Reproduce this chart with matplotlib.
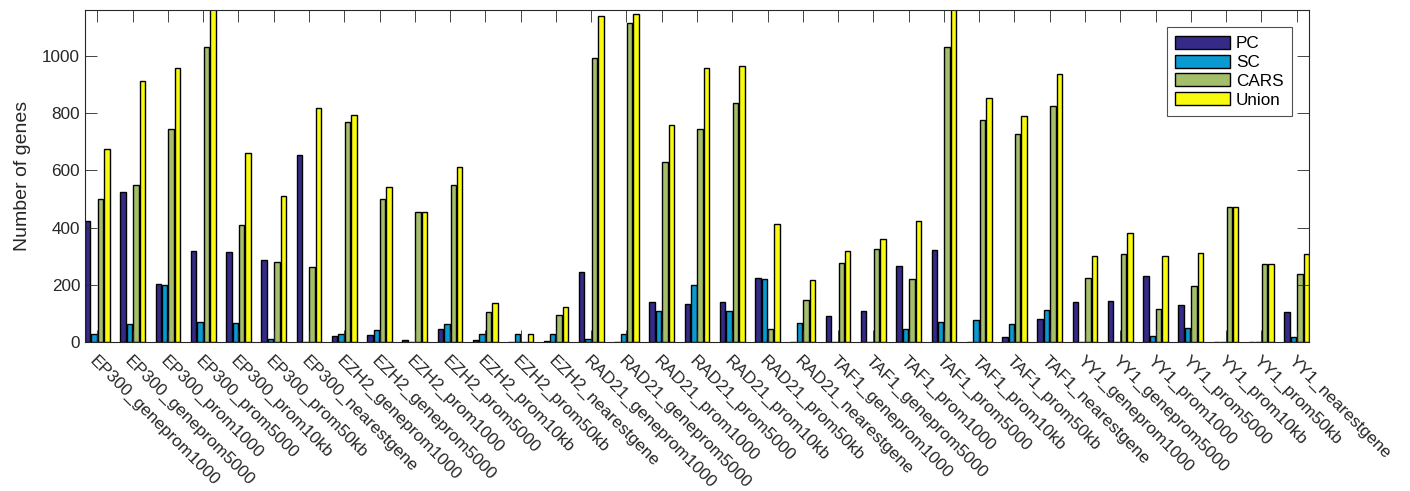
import numpy as np
import matplotlib.pyplot as plt

plt.rcParams['font.family'] = ['Liberation Sans', 'DejaVu Sans']

# categories (TF_region)
categories = [
    "EP300_geneprom1000", "EP300_geneprom5000", "EP300_prom1000", "EP300_prom5000",
    "EP300_prom10kb", "EP300_prom50kb", "EP300_nearestgene",
    "EZH2_geneprom1000", "EZH2_geneprom5000", "EZH2_prom1000", "EZH2_prom5000",
    "EZH2_prom10kb", "EZH2_prom50kb", "EZH2_nearestgene",
    "RAD21_geneprom1000", "RAD21_geneprom5000", "RAD21_prom1000", "RAD21_prom5000",
    "RAD21_prom10kb", "RAD21_prom50kb", "RAD21_nearestgene",
    "TAF1_geneprom1000", "TAF1_geneprom5000", "TAF1_prom1000", "TAF1_prom5000",
    "TAF1_prom10kb", "TAF1_prom50kb", "TAF1_nearestgene",
    "YY1_geneprom1000", "YY1_geneprom5000", "YY1_prom1000", "YY1_prom5000",
    "YY1_prom10kb", "YY1_prom50kb", "YY1_nearestgene",
]

pc = [424, 524, 203, 319, 315, 285, 654,
      21, 23, 8, 44, 6, 0, 5,
      245, 0, 141, 133, 141, 222, 0,
      92, 109, 266, 320, 0, 16, 82,
      141, 145, 230, 129, 0, 0, 104]
sc = [29, 63, 199, 69, 65, 12, 0,
      29, 41, 0, 63, 27, 29, 28,
      12, 27, 108, 199, 108, 219, 68,
      0, 0, 47, 70, 78, 62, 111,
      0, 0, 21, 50, 0, 0, 18]
cars = [501, 548, 744, 1030, 408, 279, 261,
        768, 500, 453, 548, 105, 0, 96,
        994, 1116, 628, 744, 836, 47, 146,
        277, 324, 219, 1030, 775, 726, 823,
        222, 308, 116, 194, 473, 272, 236]
union = [675, 911, 958, 1190, 661, 511, 816,
         794, 541, 453, 611, 137, 29, 123,
         1138, 1145, 759, 958, 966, 413, 215,
         317, 361, 422, 1190, 853, 788, 938,
         301, 381, 299, 310, 473, 272, 307]

series = [pc, sc, cars, union]
names = ["PC", "SC", "CARS", "Union"]
colors = ["#352A87", "#0A9AD2", "#A5BE6A", "#F9FB0E"]

fig = plt.figure(figsize=(14.1, 4.91), dpi=100)
ax = fig.add_axes([85 / 1410, 1 - 342 / 491, 1224 / 1410, 332 / 491])

x = np.arange(len(categories))
step = 0.182
width = 0.155
for i, (vals, name, col) in enumerate(zip(series, names, colors)):
    off = (i - 1.5) * step
    ax.bar(x + off, vals, width, color=col, edgecolor="black", linewidth=1.0, label=name)

ax.set_xlim(-1.5 * step - width / 2, len(categories) - 1 + 1.5 * step + width / 2)
ax.set_ylim(0, 1160)
ax.set_yticks([0, 200, 400, 600, 800, 1000])
ax.set_xticks(x)
ax.set_xticklabels(categories, rotation=-45, ha="left", va="top", rotation_mode="anchor")

ax.tick_params(direction="in", length=8.6, width=0.6, top=True, right=True,
               colors="#262626", labelsize=12.3)
ax.tick_params(axis="x", pad=8)
for s in ax.spines.values():
    s.set_color("#262626")
    s.set_linewidth(0.8)

ax.set_ylabel("Number of genes", fontsize=14, color="#262626", labelpad=8)

leg = ax.legend(loc="upper right", fontsize=12.3, fancybox=False, edgecolor="#262626",
                handlelength=3.2, handleheight=0.8, handletextpad=0.35,
                labelspacing=0.2, borderaxespad=1.0, borderpad=0.5)
leg.get_frame().set_linewidth(0.8)

fig.savefig("out.png", dpi=100)
